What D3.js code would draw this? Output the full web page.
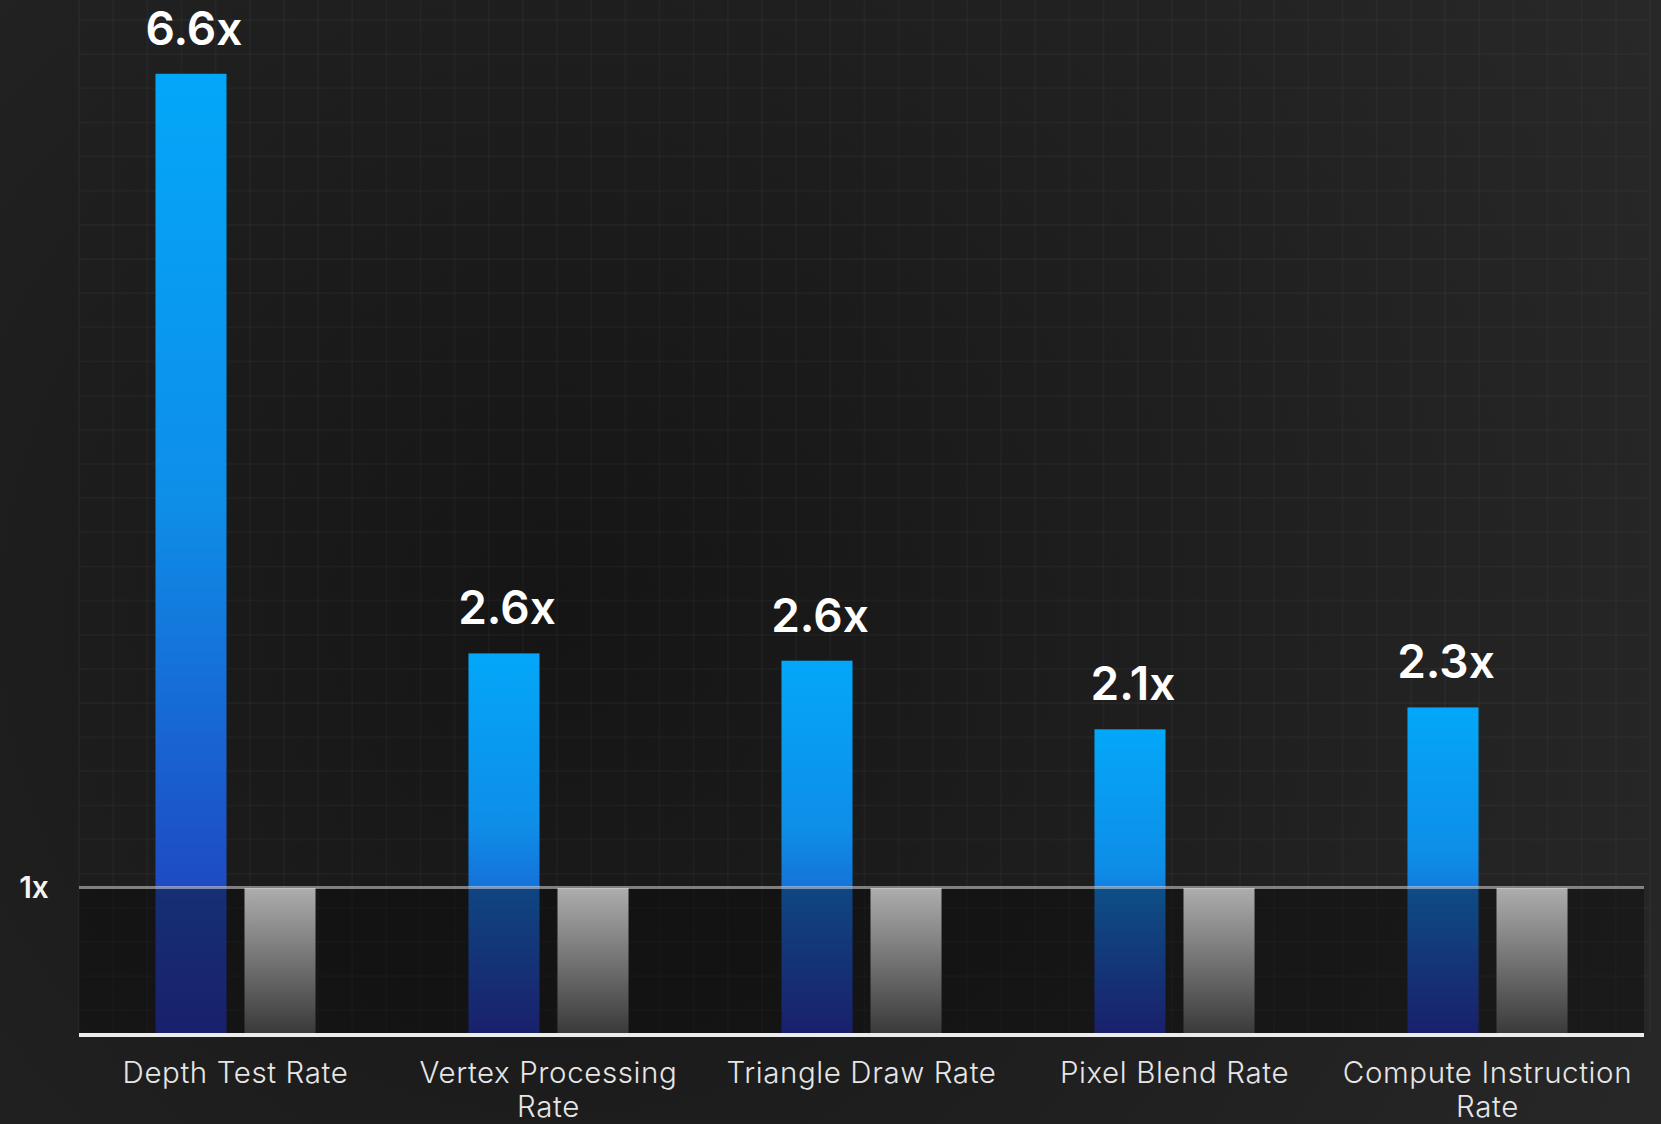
<!DOCTYPE html>
<html>
<head>
<meta charset="utf-8">
<script src="https://cdn.jsdelivr.net/npm/d3@7"></script>
<style>
  html, body { margin: 0; padding: 0; background: #1b1b1b; overflow: hidden; }
  svg { display: block; }
</style>
</head>
<body>
<svg id="chart" width="1661" height="1124"></svg>
<script>
// ---- data ----
const categories = ["Depth Test Rate", "Vertex Processing Rate", "Triangle Draw Rate", "Pixel Blend Rate", "Compute Instruction Rate"];
const newValues = [6.57, 2.6, 2.55, 2.08, 2.23];       // bar heights
const newLabels = ["6.6x", "2.6x", "2.6x", "2.1x", "2.3x"];
const baseValues = [1, 1, 1, 1, 1];
const refTicks = [1];
const refTickLabels = ["1x"];

// ---- layout ----
const W = 1661, H = 1124;
const plot = { left: 79, right: 1644, top: 0, bottom: 1033 };
const svg = d3.select("#chart");
const defs = svg.append("defs");

// background
const bg = defs.append("radialGradient").attr("id", "bg")
  .attr("gradientUnits", "userSpaceOnUse").attr("cx", 560).attr("cy", 620).attr("r", 1250);
bg.append("stop").attr("offset", 0).attr("stop-color", "#151515");
bg.append("stop").attr("offset", 1).attr("stop-color", "#282828");
svg.append("rect").attr("width", W).attr("height", H).attr("fill", "url(#bg)");

// gradients
const blueG = defs.append("linearGradient").attr("id", "blueG").attr("x1", 0).attr("y1", 0).attr("x2", 0).attr("y2", 1);
blueG.append("stop").attr("offset", 0).attr("stop-color", "#03a7f9");
blueG.append("stop").attr("offset", 0.45).attr("stop-color", "#0e8ee8");
blueG.append("stop").attr("offset", 1).attr("stop-color", "#2531b4");
const grayG = defs.append("linearGradient").attr("id", "grayG").attr("x1", 0).attr("y1", 0).attr("x2", 0).attr("y2", 1);
grayG.append("stop").attr("offset", 0).attr("stop-color", "#adadad");
grayG.append("stop").attr("offset", 1).attr("stop-color", "#3a3a3a");

// scales
const y = d3.scaleLinear().domain([0, 1]).range([plot.bottom, 887]);
const x0 = d3.scaleBand().domain(categories).range([plot.left, plot.right]).padding(0);
const x1 = d3.scaleBand().domain(["new", "base"]).range([0, x0.bandwidth()])
  .paddingInner(0.2022).paddingOuter(0.859);

// grid
const grid = svg.append("g").attr("stroke", "rgba(255,255,255,0.028)").attr("stroke-width", 2);
d3.range(plot.left, 1650, 34.15).forEach(gx => {
  grid.append("line").attr("x1", gx).attr("x2", gx).attr("y1", 0).attr("y2", plot.bottom);
});
d3.range(20, plot.bottom, 34.15).forEach(gy => {
  grid.append("line").attr("x1", plot.left).attr("x2", 1649).attr("y1", gy).attr("y2", gy);
});

// blue bars
svg.append("g").selectAll("rect").data(categories).join("rect")
  .attr("x", d => x0(d) + x1("new"))
  .attr("width", x1.bandwidth())
  .attr("y", (d, i) => y(newValues[i]))
  .attr("height", (d, i) => y(0) - y(newValues[i]))
  .attr("fill", "url(#blueG)");

// dark overlay below reference line
svg.append("rect")
  .attr("x", plot.left).attr("width", plot.right - plot.left)
  .attr("y", y(1)).attr("height", y(0) - y(1))
  .attr("fill", "#0a0a0a").attr("opacity", 0.42);

// baseline bars
svg.append("g").selectAll("rect").data(categories).join("rect")
  .attr("x", d => x0(d) + x1("base"))
  .attr("width", x1.bandwidth())
  .attr("y", (d, i) => y(baseValues[i]) + 1)
  .attr("height", (d, i) => y(0) - y(baseValues[i]) - 1)
  .attr("fill", "url(#grayG)");

// reference line via axis
const refAxis = d3.axisLeft(y).tickValues(refTicks).tickFormat((d, i) => refTickLabels[i])
  .tickSize(-(plot.right - plot.left)).tickPadding(32);
const ra = svg.append("g").attr("transform", `translate(${plot.left},0)`).call(refAxis);
ra.select(".domain").remove();
ra.selectAll(".tick line").attr("stroke", "rgba(215,215,215,0.55)").attr("stroke-width", 3);
ra.selectAll(".tick text")
  .attr("fill", "#f4f4f4").attr("font-family", "Inter, 'Noto Sans', sans-serif")
  .attr("font-weight", 600).attr("font-size", 30).attr("text-anchor", "middle")
  .attr("x", -45).attr("dy", "0.35em");

// base axis line
svg.append("rect").attr("x", plot.left).attr("width", plot.right - plot.left)
  .attr("y", plot.bottom).attr("height", 4).attr("fill", "#ececec");

// value labels
svg.append("g").selectAll("text").data(categories).join("text")
  .attr("x", d => x0(d) + x1("new") + x1.bandwidth() / 2 + 3)
  .attr("y", (d, i) => y(newValues[i]) - 29)
  .attr("text-anchor", "middle")
  .attr("fill", "#ffffff")
  .attr("font-family", "Inter, 'Noto Sans', sans-serif")
  .attr("font-weight", 600)
  .attr("font-size", 46)
  .text((d, i) => newLabels[i]);

// category labels with wrapping
const catAxis = d3.axisBottom(x0).tickSize(0).tickPadding(0);
const ca = svg.append("g").attr("transform", `translate(0,${plot.bottom})`).call(catAxis);
ca.select(".domain").remove();
ca.selectAll(".tick text")
  .attr("fill", "#e6e6e6").attr("font-family", "Inter, 'Noto Sans', sans-serif")
  .attr("font-weight", 300).attr("font-size", 29.5)
  .attr("letter-spacing", "0.6px")
  .attr("y", 50).attr("dy", 0)
  .each(function(d) {
    const t = d3.select(this);
    const words = d.split(" ");
    t.text(null);
    let line = [];
    let lineNo = 0;
    let tspan = t.append("tspan").attr("x", 0).attr("y", 50);
    words.forEach(w => {
      line.push(w);
      tspan.text(line.join(" "));
      if (tspan.node().getComputedTextLength() > 300 && line.length > 1) {
        line.pop();
        tspan.text(line.join(" "));
        line = [w];
        lineNo++;
        tspan = t.append("tspan").attr("x", 0).attr("y", 50 + lineNo * 34).text(w);
      }
    });
  });
</script>
</body>
</html>
